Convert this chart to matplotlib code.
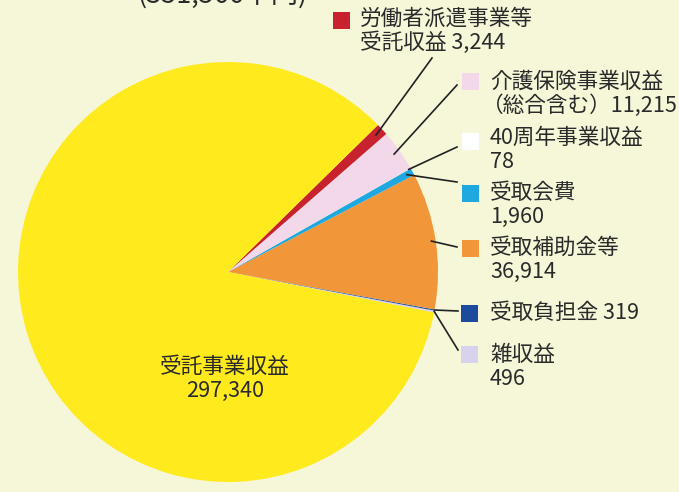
import numpy as np
import matplotlib
matplotlib.use('Agg')
from matplotlib import pyplot as plt

plt.rcParams['font.family'] = ['Noto Sans CJK JP', 'DejaVu Sans']

W, H = 679, 492
BG = '#f5f7d8'
TXT = '#2a2a2a'

# slices, counterclockwise starting just below 3 o'clock
names = ['雑収益', '受取負担金', '受取補助金等', '受取会費', '40周年事業収益',
         '介護保険事業収益', '労働者派遣事業等受託収益', '受託事業収益']
values = [496, 319, 36914, 1960, 78, 11215, 3244, 297340]
colors = ['#d8d2ef', '#1c4b9d', '#f2963a', '#1fa8e0', '#ffffff',
          '#f3d8ea', '#c8222e', '#ffea1e']

# legend text lines for each slice (main slice is labelled inside)
label_lines = [
    ['雑収益', '496'],
    ['受取負担金 319'],
    ['受取補助金等', '36,914'],
    ['受取会費', '1,960'],
    ['40周年事業収益', '78'],
    ['介護保険事業収益', '（総合含む）11,215'],
    ['労働者派遣事業等', '受託収益 3,244'],
]
total_text = '(351,566千円)'
main_text = ['受託事業収益', '297,340']

fig = plt.figure(figsize=(W / 100, H / 100), dpi=100, facecolor=BG)
ax = fig.add_axes([0, 0, 1, 1])
ax.set_facecolor(BG)

cx, cy, R = 228, 272, 210
# y axis is flipped to pixel coords, so draw clockwise in data = ccw on screen
wedges, _ = ax.pie(values, colors=colors, startangle=11.1, counterclock=False,
                   center=(cx, cy), radius=R,
                   wedgeprops=dict(linewidth=0))
ax.set_xlim(0, W)
ax.set_ylim(H, 0)
ax.set_aspect('equal')
ax.axis('off')

# legend squares / text / leader lines (pixel positions)
sq_pos = [(469, 354), (469, 313), (470, 248), (470, 193), (470, 141), (470, 81), (341, 20)]
txt_x = [490, 490, 490, 490, 490, 490, 360]
first_y = [355, 313, 248, 193, 138, 82, 19]
lead_frac = [1.0, 1.0, 0.98, 0.97, 0.99, 0.97, 0.96]
lead_end = [(458, 350), (458, 311), (457, 247), (457, 182), (457, 147), (457, 85), (432, 58)]
LINE_GAP = 24
FS = 15.6

for i, lines in enumerate(label_lines):
    sx, sy = sq_pos[i]
    ax.add_patch(plt.Rectangle((sx - 8.5, sy - 8.5), 17, 17, color=colors[i], lw=0))
    for k, t in enumerate(lines):
        x = txt_x[i]
        if t.startswith('（'):
            x -= 8  # full-width paren has blank space on its left
        ax.text(x, first_y[i] + k * LINE_GAP, t, fontsize=FS, color=TXT,
                ha='left', va='center')
    w = wedges[i]
    mid = np.deg2rad((w.theta1 + w.theta2) / 2)
    px = cx + R * lead_frac[i] * np.cos(mid)
    py = cy + R * lead_frac[i] * np.sin(mid)
    ex, ey = lead_end[i]
    ax.plot([px, ex], [py, ey], color='#222222', lw=1.2)

# main slice label
ax.text(225, 367, main_text[0], fontsize=FS, color=TXT, ha='center', va='center')
ax.text(225, 391, main_text[1], fontsize=FS, color=TXT, ha='center', va='center')

# title cut off at the top edge, as in the source scan
ax.text(223, 3, total_text, fontsize=19.5, color=TXT, ha='center', va='baseline')

fig.savefig('out.png', dpi=100, facecolor=BG)
